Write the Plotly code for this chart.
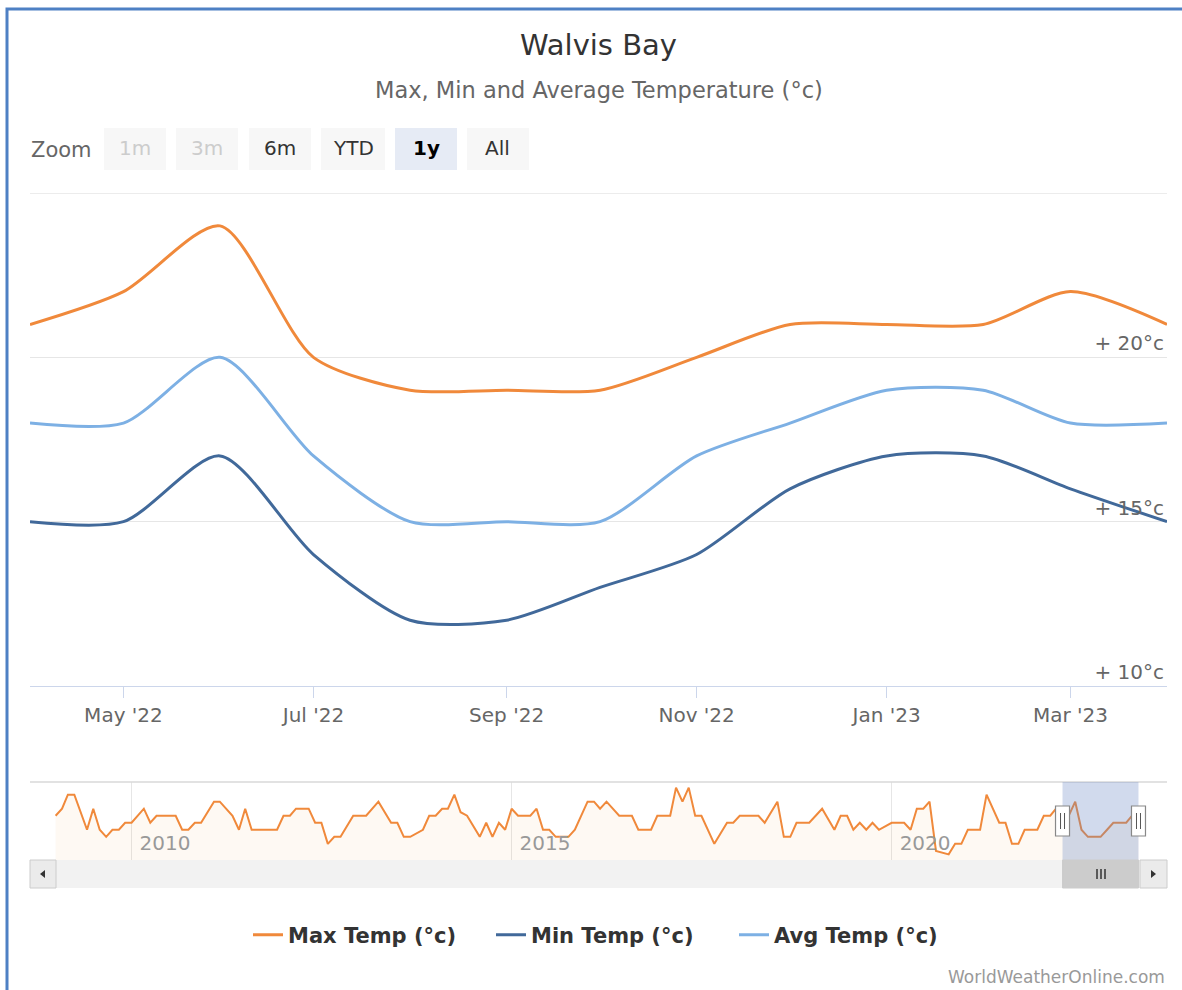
import plotly.graph_objects as go

# ---------------- data ----------------
months = ["2022-04-01", "2022-05-01", "2022-06-01", "2022-07-01", "2022-08-01",
          "2022-09-01", "2022-10-01", "2022-11-01", "2022-12-01", "2023-01-01",
          "2023-02-01", "2023-03-01", "2023-04-01"]
max_temp = [21, 22, 24, 20, 19, 19, 19, 20, 21, 21, 21, 22, 21]
min_temp = [15, 15, 17, 14, 12, 12, 13, 14, 16, 17, 17, 16, 15]
avg_temp = [18, 18, 20, 17, 15, 15, 15, 17, 18, 19, 19, 18, 18]

# navigator (long history of max temp, vertices)
nav_dates = ["2009-01", "2009-02", "2009-03", "2009-04", "2009-06", "2009-07", "2009-08",
             "2009-09", "2009-10", "2009-11", "2009-12", "2010-01", "2010-03", "2010-04",
             "2010-05", "2010-08", "2010-09", "2010-10", "2010-11", "2010-12", "2011-02",
             "2011-03", "2011-05", "2011-06", "2011-07", "2011-08", "2011-12", "2012-01",
             "2012-02", "2012-03", "2012-05", "2012-06", "2012-07", "2012-08", "2012-09",
             "2012-10", "2012-12", "2013-02", "2013-04", "2013-06", "2013-07", "2013-08",
             "2013-09", "2013-11", "2013-12", "2014-01", "2014-02", "2014-03", "2014-04",
             "2014-05", "2014-06", "2014-08", "2014-09", "2014-10", "2014-11", "2014-12",
             "2015-01", "2015-02", "2015-04", "2015-05", "2015-06", "2015-07", "2015-08",
             "2015-10", "2015-11", "2016-01", "2016-02", "2016-03", "2016-04", "2016-06",
             "2016-08", "2016-09", "2016-11", "2016-12", "2017-02", "2017-03", "2017-04",
             "2017-05", "2017-06", "2017-07", "2017-09", "2017-11", "2017-12", "2018-01",
             "2018-04", "2018-05", "2018-07", "2018-08", "2018-09", "2018-10", "2018-12",
             "2019-02", "2019-04", "2019-05", "2019-06", "2019-07", "2019-08", "2019-09",
             "2019-10", "2019-11", "2020-01", "2020-03", "2020-04", "2020-05", "2020-06",
             "2020-07", "2020-08", "2020-10", "2020-11", "2020-12", "2021-01", "2021-03",
             "2021-04", "2021-05", "2021-06", "2021-07", "2021-08", "2021-09", "2021-10",
             "2021-12", "2022-01", "2022-02", "2022-03"]
nav_values = [22, 23, 25, 25, 20, 23, 20,
              19, 20, 20, 21, 21, 23, 21,
              22, 22, 20, 20, 21, 21, 24,
              24, 22, 20, 23, 20, 20, 22,
              22, 23, 23, 21, 21, 18, 19,
              19, 22, 22, 24, 21, 21, 19,
              19, 20, 22, 22, 23, 23, 25,
              22.5, 22, 19, 21, 19, 21, 20,
              23, 22, 22, 23, 20, 20, 19,
              19, 20, 24, 24, 23, 24, 22,
              22, 20, 20, 22, 22, 26, 24,
              26, 22, 22, 18, 21, 21, 22,
              22, 21, 24, 19, 19, 21, 21,
              23, 20, 22, 22, 20, 21, 20,
              21, 20, 21, 21, 20, 23, 23,
              24, 17, 16.5, 18, 18, 20, 20,
              25, 23, 21, 21, 18, 18, 20,
              20, 22, 22, 23]

year_ticks = ["2010-01-01", "2015-01-01", "2020-01-01"]
year_labels = ["2010", "2015", "2020"]
y_ticks = [10, 15, 20, 25]
y_labels = ["+ 10°c", "+ 15°c", "+ 20°c", ""]
zoom_buttons = ["1m", "3m", "6m", "YTD", "1y", "All"]

# ---------------- styles ----------------
C_MAX = "#F0893B"
C_MIN = "#41699A"
C_AVG = "#7DB0E4"
FONT = "DejaVu Sans"
SMOOTH = 0.75

W, H = 1182, 990
ML, MR, MT, MB = 30, 15, 193, 130
PW, PH = W - ML - MR, H - MT - MB


def px(x):
    return (x - ML) / PW


def py(y):
    return (H - MB - y) / PH


fig = go.Figure()

fig.add_trace(go.Scatter(x=months, y=max_temp, name="Max Temp (°c)", mode="lines",
                         line=dict(color=C_MAX, width=3, shape="spline", smoothing=SMOOTH)))
fig.add_trace(go.Scatter(x=months, y=min_temp, name="Min Temp (°c)", mode="lines",
                         line=dict(color=C_MIN, width=3, shape="spline", smoothing=SMOOTH)))
fig.add_trace(go.Scatter(x=months, y=avg_temp, name="Avg Temp (°c)", mode="lines",
                         line=dict(color=C_AVG, width=3, shape="spline", smoothing=SMOOTH)))

# navigator series: history + the displayed year
fig.add_trace(go.Scatter(x=nav_dates + months, y=nav_values + max_temp, mode="lines",
                         xaxis="x2", yaxis="y2", showlegend=False, hoverinfo="skip",
                         line=dict(color=C_MAX, width=2),
                         fill="tozeroy", fillcolor="rgba(247,163,92,0.07)"))

nav_top = 782

fig.update_layout(
    width=W, height=H,
    margin=dict(l=ML, r=MR, t=MT, b=MB),
    paper_bgcolor="white", plot_bgcolor="rgba(0,0,0,0)",
    font=dict(family=FONT, color="#333"),
    title=dict(text="Walvis Bay", x=0.5, xref="paper", xanchor="center",
               y=1 - 45 / H, yref="container", yanchor="middle",
               font=dict(size=29, color="#333", family=FONT)),
    xaxis=dict(domain=[0, 1], anchor="y", type="date",
               range=[months[0], months[-1]],
               tick0="2022-05-01", dtick="M2", tickformat="%b '%y",
               ticks="outside", ticklen=11, tickcolor="#ccd6eb", tickwidth=1,
               showline=True, linecolor="#ccd6eb", linewidth=1,
               showgrid=False, zeroline=False,
               tickfont=dict(size=20, color="#666", family=FONT)),
    yaxis=dict(domain=[py(686), 1], anchor="x", range=[10, 25], side="right",
               tickvals=y_ticks, ticktext=y_labels, ticklabelposition="inside top",
               showgrid=True, gridcolor="#e6e6e6", gridwidth=1, zeroline=False,
               showline=False, ticks="",
               tickfont=dict(size=20, color="#666", family=FONT)),
    xaxis2=dict(domain=[0, 1], anchor="y2", type="date",
                range=["2008-08-31", "2023-08-16"],
                tickvals=year_ticks, ticktext=year_labels,
                ticklabelposition="inside right", ticklabelshift=8, ticks="",
                showgrid=True, gridcolor="#e6e6e6", gridwidth=1,
                showline=False, zeroline=False,
                tickfont=dict(size=20, color="#999", family=FONT)),
    yaxis2=dict(domain=[0, py(nav_top)], anchor="x2", range=[15.7, 26.8],
                visible=False, showgrid=False, zeroline=False),
    showlegend=True,
    legend=dict(orientation="h", x=0.5 + 14 / PW, xanchor="center", y=py(935), yanchor="middle",
                font=dict(size=21, color="#333", family=FONT, weight="bold"),
                entrywidth=198, entrywidthmode="pixels",
                itemwidth=30, bgcolor="rgba(0,0,0,0)"),
    hovermode=False,
)

shapes = []
annotations = []

# outer blue border
shapes.append(dict(type="rect", xref="paper", yref="paper",
                   x0=px(7), x1=px(1195), y0=py(1005), y1=py(9),
                   line=dict(color="#4E80C4", width=3), fillcolor="rgba(0,0,0,0)", layer="above"))

# top gridline (25 °c) drawn at the axis maximum
shapes.append(dict(type="line", xref="paper", yref="y", x0=0, x1=1, y0=y_ticks[-1], y1=y_ticks[-1],
                   line=dict(color="#e6e6e6", width=1.5), layer="below"))

# subtitle
annotations.append(dict(text="Max, Min and Average Temperature (°c)", xref="paper", yref="paper",
                        x=0.5, y=py(90), xanchor="center", yanchor="middle", showarrow=False,
                        font=dict(size=22.5, color="#666", family=FONT)))

# range selector
annotations.append(dict(text="Zoom", xref="paper", yref="paper", x=px(29), y=py(150),
                        xanchor="left", yanchor="middle", showarrow=False,
                        font=dict(size=21, color="#666", family=FONT)))
btn_x = [(104, 166), (176, 238), (249, 311), (321, 385), (395, 457), (467, 529)]
for label, (a, b) in zip(zoom_buttons, btn_x):
    selected = label == "1y"
    disabled = label in ("1m", "3m")
    shapes.append(dict(type="rect", xref="paper", yref="paper",
                       x0=px(a), x1=px(b), y0=py(170), y1=py(128),
                       fillcolor="#e6ebf5" if selected else "#f7f7f7",
                       line=dict(width=0), layer="below"))
    annotations.append(dict(text=("<b>%s</b>" % label) if selected else label,
                            xref="paper", yref="paper", x=px((a + b) / 2), y=py(148),
                            xanchor="center", yanchor="middle", showarrow=False,
                            font=dict(size=20, family=FONT,
                                      color="#cccccc" if disabled else ("#000" if selected else "#333"))))

# navigator outline (top line)
shapes.append(dict(type="line", xref="paper", yref="paper", x0=0, x1=1,
                   y0=py(nav_top), y1=py(nav_top), line=dict(color="#d9d9d9", width=1.5)))
# navigator selected-range mask
shapes.append(dict(type="rect", xref="x2", yref="paper", x0=months[0], x1=months[-1],
                   y0=0, y1=py(nav_top), fillcolor="rgba(102,133,194,0.3)",
                   line=dict(width=0), layer="above"))
# handles
for d in (months[0], months[-1]):
    shapes.append(dict(type="rect", xref="x2", yref="paper", xsizemode="pixel", xanchor=d,
                       x0=-7, x1=7, y0=py(836), y1=py(806),
                       fillcolor="#ffffff", line=dict(color="#888", width=1.2), layer="above"))
    for off in (-2, 2):
        shapes.append(dict(type="line", xref="x2", yref="paper", xsizemode="pixel", xanchor=d,
                           x0=off, x1=off, y0=py(829), y1=py(813),
                           line=dict(color="#555", width=1), layer="above"))

# scrollbar
shapes.append(dict(type="rect", xref="paper", yref="paper", x0=0, x1=1,
                   y0=py(888), y1=py(860), fillcolor="#f2f2f2", line=dict(width=0)))
shapes.append(dict(type="rect", xref="paper", yref="paper", x0=px(30), x1=px(56),
                   y0=py(888), y1=py(860), fillcolor="#ebebeb", line=dict(color="#cccccc", width=1)))
shapes.append(dict(type="rect", xref="paper", yref="paper", x0=px(1140), x1=px(1167),
                   y0=py(888), y1=py(860), fillcolor="#ebebeb", line=dict(color="#cccccc", width=1)))
shapes.append(dict(type="rect", xref="x2", yref="paper", x0=months[0], x1=months[-1],
                   y0=py(888), y1=py(860), fillcolor="#cccccc", line=dict(color="#cccccc", width=1)))


def tri(points):
    return "M " + " L ".join("%f,%f" % (px(x), py(y)) for x, y in points) + " Z"


shapes.append(dict(type="path", xref="paper", yref="paper",
                   path=tri([(40, 874), (45, 870), (45, 878)]),
                   fillcolor="#333", line=dict(width=0)))
shapes.append(dict(type="path", xref="paper", yref="paper",
                   path=tri([(1156, 874), (1151, 870), (1151, 878)]),
                   fillcolor="#333", line=dict(width=0)))
for off in (-4, 0, 4):
    shapes.append(dict(type="line", xref="paper", yref="paper",
                       x0=px(1101 + off), x1=px(1101 + off), y0=py(879), y1=py(869),
                       line=dict(color="#333", width=1.5)))

# credits
annotations.append(dict(text="WorldWeatherOnline.com", xref="paper", yref="paper",
                        x=px(1167), y=py(977), xanchor="right", yanchor="middle", showarrow=False,
                        font=dict(size=17, color="#999", family=FONT)))

fig.update_layout(shapes=shapes, annotations=annotations)

fig.write_html("out.html", config={"displayModeBar": False},
               post_script="document.body.style.margin='0px';document.body.style.overflow='hidden';")
